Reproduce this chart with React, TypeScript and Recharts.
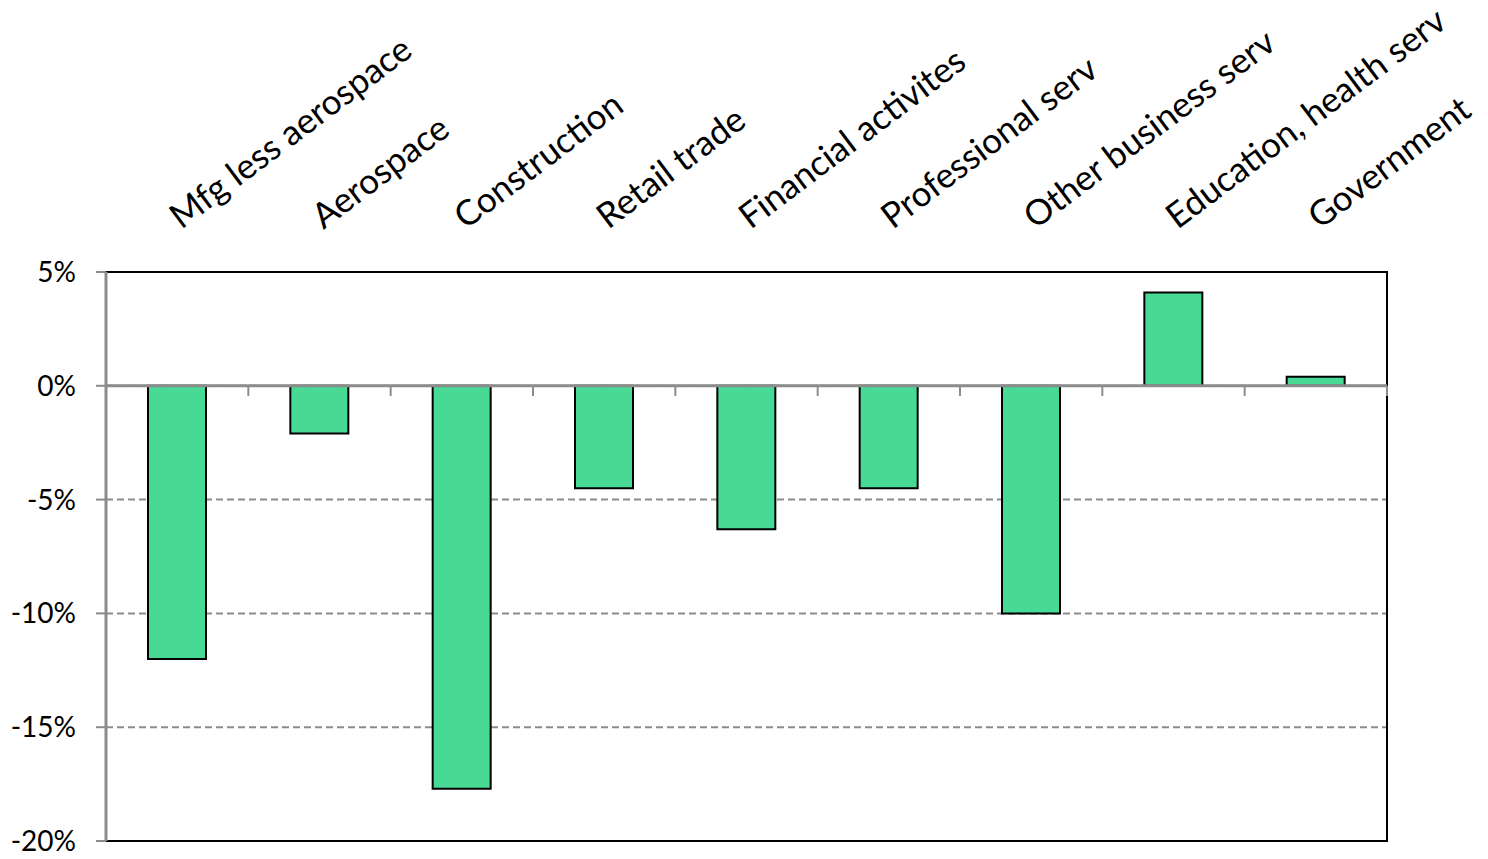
import React from 'react';
import {
  BarChart,
  Bar,
  XAxis,
  YAxis,
  CartesianGrid,
  ReferenceLine,
  ReferenceArea,
} from 'recharts';

// Employment change by sector, percent
const sectors = [
  'Mfg less aerospace',
  'Aerospace',
  'Construction',
  'Retail trade',
  'Financial activites',
  'Professional serv',
  'Other business serv',
  'Education, health serv',
  'Government',
];
const changes = [-12.0, -2.1, -17.7, -4.5, -6.3, -4.5, -10.0, 4.1, 0.4];
const yTicks = [-20, -15, -10, -5, 0, 5];

const data = sectors.map((name, i) => ({ name, change: changes[i] }));

const FONT = 'Lato, "Open Sans", sans-serif';

function SectorTick({ x, y, payload }: any) {
  const ax = x + 4;
  return (
    <text
      x={ax}
      y={y}
      transform={`rotate(-37, ${ax}, ${y})`}
      fontSize={35}
      fontFamily={FONT}
      fill="#000"
      textAnchor="start"
    >
      {payload.value}
    </text>
  );
}

export default function App() {
  return (
    <div style={{ position: 'relative', width: 1488, height: 859, margin: -8, background: '#fff' }}>
      <BarChart
        width={1488}
        height={859}
        data={data}
        margin={{ top: 212, right: 101, bottom: 18, left: 0 }}
      >
        <ReferenceArea
          xAxisId="cat"
          y1={-20}
          y2={5}
          fill="none"
          stroke="#000"
          strokeWidth={2}
        />
        <CartesianGrid
          xAxisId="cat"
          vertical={false}
          stroke="#8c8c8c"
          strokeWidth={2}
          strokeDasharray="7 4"
        />
        <XAxis
          xAxisId="cat"
          dataKey="name"
          orientation="top"
          height={60}
          axisLine={false}
          tickLine={false}
          tickSize={0}
          tickMargin={42}
          interval={0}
          tick={<SectorTick />}
        />
        <YAxis
          domain={[-20, 5]}
          ticks={yTicks}
          width={106}
          tickSize={10}
          tickMargin={20}
          tickFormatter={(v) => `${v}%`}
          tick={{ fill: '#000', fontSize: 28, fontFamily: FONT }}
          axisLine={{ stroke: '#8c8c8c', strokeWidth: 3 }}
          tickLine={{ stroke: '#8c8c8c', strokeWidth: 2 }}
        />
        <Bar
          xAxisId="cat"
          dataKey="change"
          barSize={58}
          fill="#48d994"
          stroke="#000"
          strokeWidth={2}
          isAnimationActive={false}
        />
        <ReferenceLine xAxisId="cat" y={0} stroke="#8c8c8c" strokeWidth={3} />
        {/* short tick marks at the right edge of each category on the zero line */}
        {sectors.map((name) => (
          <ReferenceLine
            key={name}
            xAxisId="cat"
            position="end"
            segment={[
              { x: name, y: 0 },
              { x: name, y: -0.45 },
            ]}
            stroke="#8c8c8c"
            strokeWidth={2}
          />
        ))}
      </BarChart>
      <div
        style={{
          position: 'absolute',
          left: 1480,
          top: 0,
          width: 2,
          height: 859,
          background: '#a6a6a6',
        }}
      />
    </div>
  );
}
